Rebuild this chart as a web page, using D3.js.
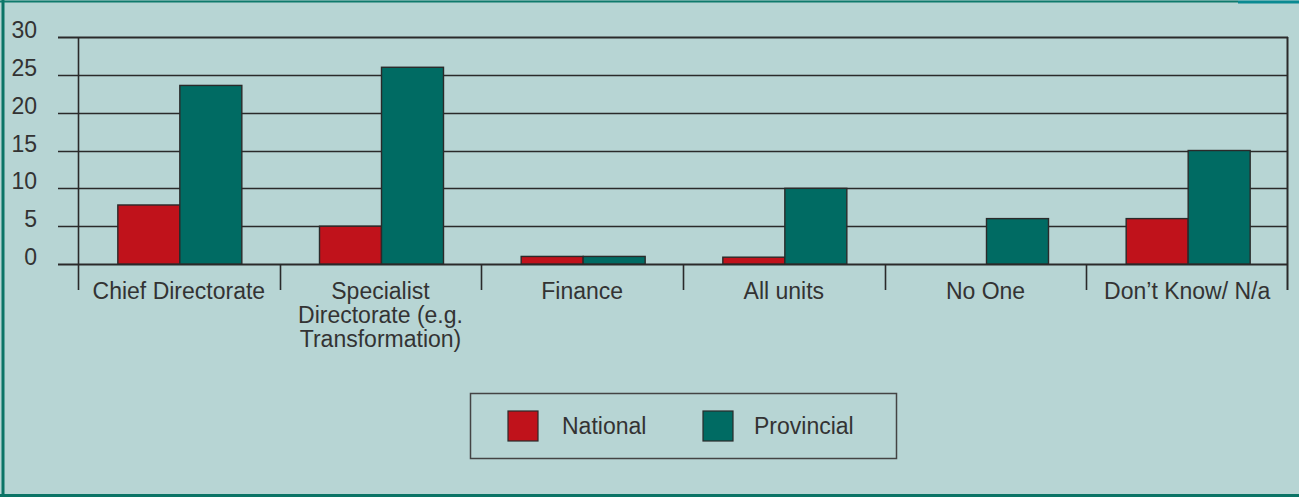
<!DOCTYPE html>
<html>
<head>
<meta charset="utf-8">
<script src="https://cdn.jsdelivr.net/npm/d3@7"></script>
<style>
  body { margin: 0; background: #b7d5d4; }
  svg { display: block; font-family: "Liberation Sans", Arial, sans-serif; }
</style>
</head>
<body>
<div id="wrapper"></div>
<script>
// chart data
const categories = ["Chief Directorate", "Specialist Directorate (e.g. Transformation)", "Finance", "All units", "No One", "Don\u2019t Know/ N/a"];
const catLines = [["Chief Directorate"], ["Specialist", "Directorate (e.g.", "Transformation)"], ["Finance"], ["All units"], ["No One"], ["Don\u2019t Know/ N/a"]];
const seriesNames = ["National", "Provincial"];
const national = [7.8, 5, 1, 0.9, 0, 6];
const provincial = [23.6, 26, 1, 10, 6, 15];
const yTicks = [0, 5, 10, 15, 20, 25, 30];
const colors = ["#c0121b", "#006b63"];

const W = 1299, H = 497;
const margin = {top: 37, right: 11, bottom: 233, left: 78};
const width = W - margin.left - margin.right;
const height = H - margin.top - margin.bottom;
const fs = 23;

const svg = d3.select("#wrapper").append("svg")
  .attr("width", W).attr("height", H);

// background + frame
svg.append("rect").attr("width", W).attr("height", H).attr("fill", "#b7d5d4");
svg.append("line").attr("x1", 3).attr("x2", 3).attr("y1", 0).attr("y2", H)
  .attr("stroke", "#0b7466").attr("stroke-width", 3);
svg.append("line").attr("x1", 0).attr("x2", W).attr("y1", 495.5).attr("y2", 495.5)
  .attr("stroke", "#0b7466").attr("stroke-width", 3);
svg.append("line").attr("x1", 0).attr("x2", 1238).attr("y1", 1.5).attr("y2", 1.5)
  .attr("stroke", "#0f7a6c").attr("stroke-width", 2);
svg.append("line").attr("x1", 1238).attr("x2", W).attr("y1", 2).attr("y2", 2)
  .attr("stroke", "#0a8a92").attr("stroke-width", 3);

const g = svg.append("g").attr("transform", `translate(${margin.left},${margin.top})`);

const x = d3.scaleBand().domain(categories).range([0, width]);
const y = d3.scaleLinear().domain([0, 30]).range([height, 0]);

// gridlines
g.selectAll(".grid").data(yTicks).enter().append("line")
  .attr("x1", -20).attr("x2", width)
  .attr("y1", d => Math.round(y(d)) + 0.5).attr("y2", d => Math.round(y(d)) + 0.5)
  .attr("stroke", "#2a2a2a").attr("stroke-width", d => d === 0 || d === 30 ? 2 : 1.6);

// y labels
g.selectAll(".ylab").data(yTicks).enter().append("text")
  .attr("x", -41).attr("y", d => y(d) + 1)
  .attr("text-anchor", "end")
  .attr("font-size", fs).attr("fill", "#333")
  .text(d => d);

// bars
const bw = 62;
const groups = g.selectAll(".cat").data(categories).enter().append("g")
  .attr("transform", d => `translate(${x(d) + x.bandwidth() / 2 + 1},0)`);

groups.append("rect")
  .attr("x", -bw).attr("width", bw)
  .attr("y", (d, i) => y(national[i]))
  .attr("height", (d, i) => height - y(national[i]))
  .attr("fill", colors[0]).attr("stroke", "#2a2a2a").attr("stroke-width", (d, i) => national[i] > 0 ? 1.4 : 0);

groups.append("rect")
  .attr("x", 0).attr("width", bw)
  .attr("y", (d, i) => y(provincial[i]))
  .attr("height", (d, i) => height - y(provincial[i]))
  .attr("fill", colors[1]).attr("stroke", "#2a2a2a").attr("stroke-width", 1.4);

// plot frame lines
g.append("line").attr("x1", 0.5).attr("x2", 0.5).attr("y1", 0).attr("y2", height + 26)
  .attr("stroke", "#2a2a2a").attr("stroke-width", 1.6);
g.append("line").attr("x1", width - 0.5).attr("x2", width - 0.5).attr("y1", 0).attr("y2", height + 26)
  .attr("stroke", "#2a2a2a").attr("stroke-width", 2);

// separators below axis
g.selectAll(".sep").data(categories.slice(1)).enter().append("line")
  .attr("x1", d => Math.round(x(d)) + 0.5).attr("x2", d => Math.round(x(d)) + 0.5)
  .attr("y1", height).attr("y2", height + 26)
  .attr("stroke", "#2a2a2a").attr("stroke-width", 1.6);

// category labels
groups.append("text")
  .attr("text-anchor", "middle")
  .attr("font-size", fs).attr("fill", "#333")
  .selectAll("tspan").data((d, i) => catLines[i]).enter().append("tspan")
  .attr("x", -1).attr("y", (d, j) => height + 35 + j * 24)
  .text(d => d);

// legend
const lg = svg.append("g").attr("transform", "translate(470,393)");
lg.append("rect").attr("x", 0.5).attr("y", 0.5).attr("width", 426).attr("height", 65)
  .attr("fill", "none").attr("stroke", "#444").attr("stroke-width", 1.5);
const items = lg.selectAll(".li").data(seriesNames).enter().append("g")
  .attr("transform", (d, i) => `translate(${38 + i * 195},18)`);
items.append("rect").attr("width", 30).attr("height", 30)
  .attr("fill", (d, i) => colors[i]).attr("stroke", "#2a2a2a").attr("stroke-width", 1.2);
items.append("text").attr("x", (d, i) => i === 0 ? 54 : 51).attr("y", 23)
  .attr("font-size", fs).attr("fill", "#333").text(d => d);
</script>
</body>
</html>
